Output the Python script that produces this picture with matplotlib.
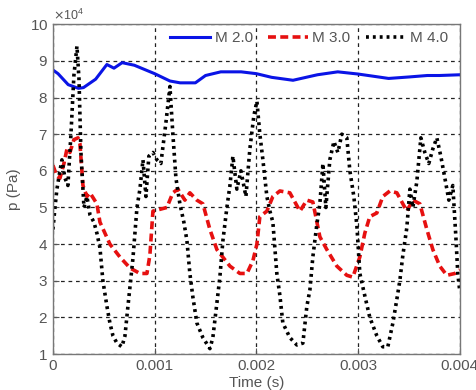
import matplotlib
matplotlib.use("Agg")
import matplotlib.pyplot as plt
import numpy as np
from matplotlib.ticker import ScalarFormatter

plt.rcParams['font.family'] = ['Liberation Sans', 'DejaVu Sans']

# time in ms, pressure in 1e4 Pa
t_m2 = [0, 0.05, 0.15, 0.25, 0.3, 0.42, 0.53, 0.6, 0.68, 0.8, 1.0, 1.15, 1.25, 1.4,
        1.5, 1.65, 1.85, 2.0, 2.15, 2.36, 2.6, 2.8, 3.0, 3.3, 3.5, 3.68, 3.8, 4.0]
p_m2 = [8.75, 8.65, 8.35, 8.25, 8.27, 8.5, 8.9, 8.8, 8.95, 8.88, 8.65, 8.45, 8.4, 8.4,
        8.6, 8.7, 8.7, 8.65, 8.55, 8.47, 8.62, 8.7, 8.64, 8.52, 8.56, 8.6, 8.6, 8.62]

t_m3 = [0, 0.039, 0.069, 0.108, 0.138, 0.167, 0.206, 0.246, 0.265, 0.295, 0.334, 0.364,
        0.432, 0.462, 0.560, 0.658, 0.757, 0.855, 0.924, 0.953, 0.983, 1.052, 1.120,
        1.179, 1.228, 1.297, 1.346, 1.415, 1.474, 1.543, 1.612, 1.740, 1.838, 1.907,
        1.966, 2.005, 2.034, 2.103, 2.162, 2.231, 2.329, 2.428, 2.496, 2.555, 2.624,
        2.693, 2.791, 2.889, 2.948, 3.017, 3.066, 3.115, 3.184, 3.243, 3.312, 3.381,
        3.479, 3.538, 3.607, 3.676, 3.735, 3.803, 3.872, 3.951, 4.0]
p_m3 = [6.15, 5.85, 5.8, 6.2, 6.6, 6.5, 6.85, 6.9, 6.75, 5.6, 5.3, 5.4,
        5.1, 4.6, 4.0, 3.65, 3.35, 3.2, 3.2, 3.7, 4.9, 4.95, 5.0,
        5.4, 5.5, 5.2, 5.4, 5.2, 5.1, 4.4, 3.85, 3.4, 3.2, 3.2,
        3.55, 4.0, 4.75, 4.9, 5.3, 5.45, 5.4, 4.9, 5.2, 5.15, 4.2,
        3.85, 3.4, 3.15, 3.1, 3.65, 4.3, 4.75, 4.85, 5.3, 5.45, 5.4,
        4.9, 5.2, 5.1, 4.4, 3.85, 3.4, 3.15, 3.2, 3.3]

t_m4 = [0.000, 0.020, 0.039, 0.069, 0.088, 0.118, 0.147, 0.177, 0.206, 0.236, 0.256,
        0.275, 0.305, 0.334, 0.364, 0.403, 0.432, 0.462, 0.491, 0.531, 0.560, 0.590,
        0.629, 0.678, 0.708, 0.737, 0.786, 0.826, 0.855, 0.885, 0.914, 0.943, 0.983,
        1.022, 1.061, 1.110, 1.150, 1.179, 1.209, 1.248, 1.287, 1.317, 1.346, 1.376,
        1.415, 1.474, 1.543, 1.572, 1.612, 1.641, 1.671, 1.710, 1.740, 1.769, 1.808,
        1.848, 1.897, 1.936, 1.975, 2.005, 2.034, 2.064, 2.103, 2.133, 2.162, 2.201,
        2.231, 2.260, 2.329, 2.398, 2.457, 2.496, 2.526, 2.555, 2.595, 2.624, 2.654,
        2.683, 2.722, 2.762, 2.801, 2.840, 2.889, 2.919, 2.958, 2.988, 3.017, 3.057,
        3.115, 3.184, 3.243, 3.292, 3.342, 3.381, 3.410, 3.440, 3.479, 3.509, 3.538,
        3.577, 3.617, 3.656, 3.695, 3.735, 3.774, 3.813, 3.853, 3.892, 3.931, 3.961,
        3.980, 4.000]
p_m4 = [4.4, 5.0, 5.5, 6.0, 6.3, 5.8, 5.6, 7.0, 8.6, 9.4, 8.5,
        6.5, 5.0, 5.3, 4.8, 4.6, 4.3, 3.9, 3.0, 2.3, 1.85, 1.5,
        1.3, 1.2, 1.5, 2.3, 3.6, 5.0, 5.5, 6.3, 5.3, 6.4, 6.5,
        6.3, 6.2, 7.3, 8.3, 7.0, 5.8, 5.1, 4.6, 4.1, 3.2, 2.55,
        1.85, 1.45, 1.15, 1.45, 2.4, 3.1, 4.1, 5.0, 5.6, 6.4, 5.5,
        6.0, 5.3, 6.6, 7.5, 7.9, 7.0, 6.3, 5.3, 4.9, 4.6, 3.2,
        2.6, 1.85, 1.45, 1.25, 1.3, 2.3, 2.75, 3.65, 4.55, 5.1, 6.2,
        5.0, 6.3, 6.8, 6.5, 7.0, 6.9, 6.0, 5.3, 4.5, 3.2, 2.7,
        2.0, 1.5, 1.2, 1.2, 1.85, 2.5, 3.0, 3.7, 4.45, 5.5, 5.0,
        5.7, 6.9, 6.5, 6.2, 6.6, 6.9, 6.4, 5.8, 5.2, 5.6, 4.2,
        3.2, 2.7]

labels = ["M 2.0", "M 3.0", "M 4.0"]
xticks = [0, 0.001, 0.002, 0.003, 0.004]
xticklabels = ["0", "0.001", "0.002", "0.003", "0.004"]

fig = plt.figure(figsize=(4.77, 3.90), dpi=100)
ax = fig.add_axes([0.111, 0.092, 0.853, 0.846])

ms = 1e-3
ax.plot(np.array(t_m2) * ms, np.array(p_m2) * 1e4, color='#0a14e6', lw=2.2, label=labels[0])
ax.plot(np.array(t_m3) * ms, np.array(p_m3) * 1e4, color='#e61010', lw=2.6,
        linestyle=(0, (2.2, 1.2)), label=labels[1])
ax.plot(np.array(t_m4) * ms, np.array(p_m4) * 1e4, color='black', lw=2.6,
        linestyle=(0, (0.8, 1.1)), label=labels[2])

ax.set_xlim(0, 0.004)
ax.set_ylim(1e4, 1e5)
ax.set_xticks(xticks)
ax.set_xticklabels(xticklabels)
ax.set_yticks(np.arange(1, 11) * 1e4)
fmt = ScalarFormatter(useMathText=True)
fmt.set_powerlimits((4, 4))
ax.yaxis.set_major_formatter(fmt)
ax.yaxis.get_offset_text().set_color('#555555')
ax.yaxis.get_offset_text().set_fontsize(9)

ax.grid(True, color='#222222', linestyle=(0, (3, 3)), lw=0.9)
for s in ax.spines.values():
    s.set_color('#777777')
    s.set_linewidth(1.0)
ax.tick_params(colors='#555555', labelsize=11, direction='in', length=4, width=0.8)
for lab in ax.get_xticklabels() + ax.get_yticklabels():
    lab.set_color('#555555')

ax.set_xlabel("Time (s)", color='#555555', fontsize=11, labelpad=2)
ax.set_ylabel("p (Pa)", color='#555555', fontsize=11, labelpad=6)

leg = ax.legend(loc='upper center', ncol=3, frameon=False, fontsize=11,
                handlelength=2.6, columnspacing=1.0, handletextpad=0.3,
                bbox_to_anchor=(0.63, 1.02), labelcolor='#555555')

fig.savefig("out.png", dpi=100)
